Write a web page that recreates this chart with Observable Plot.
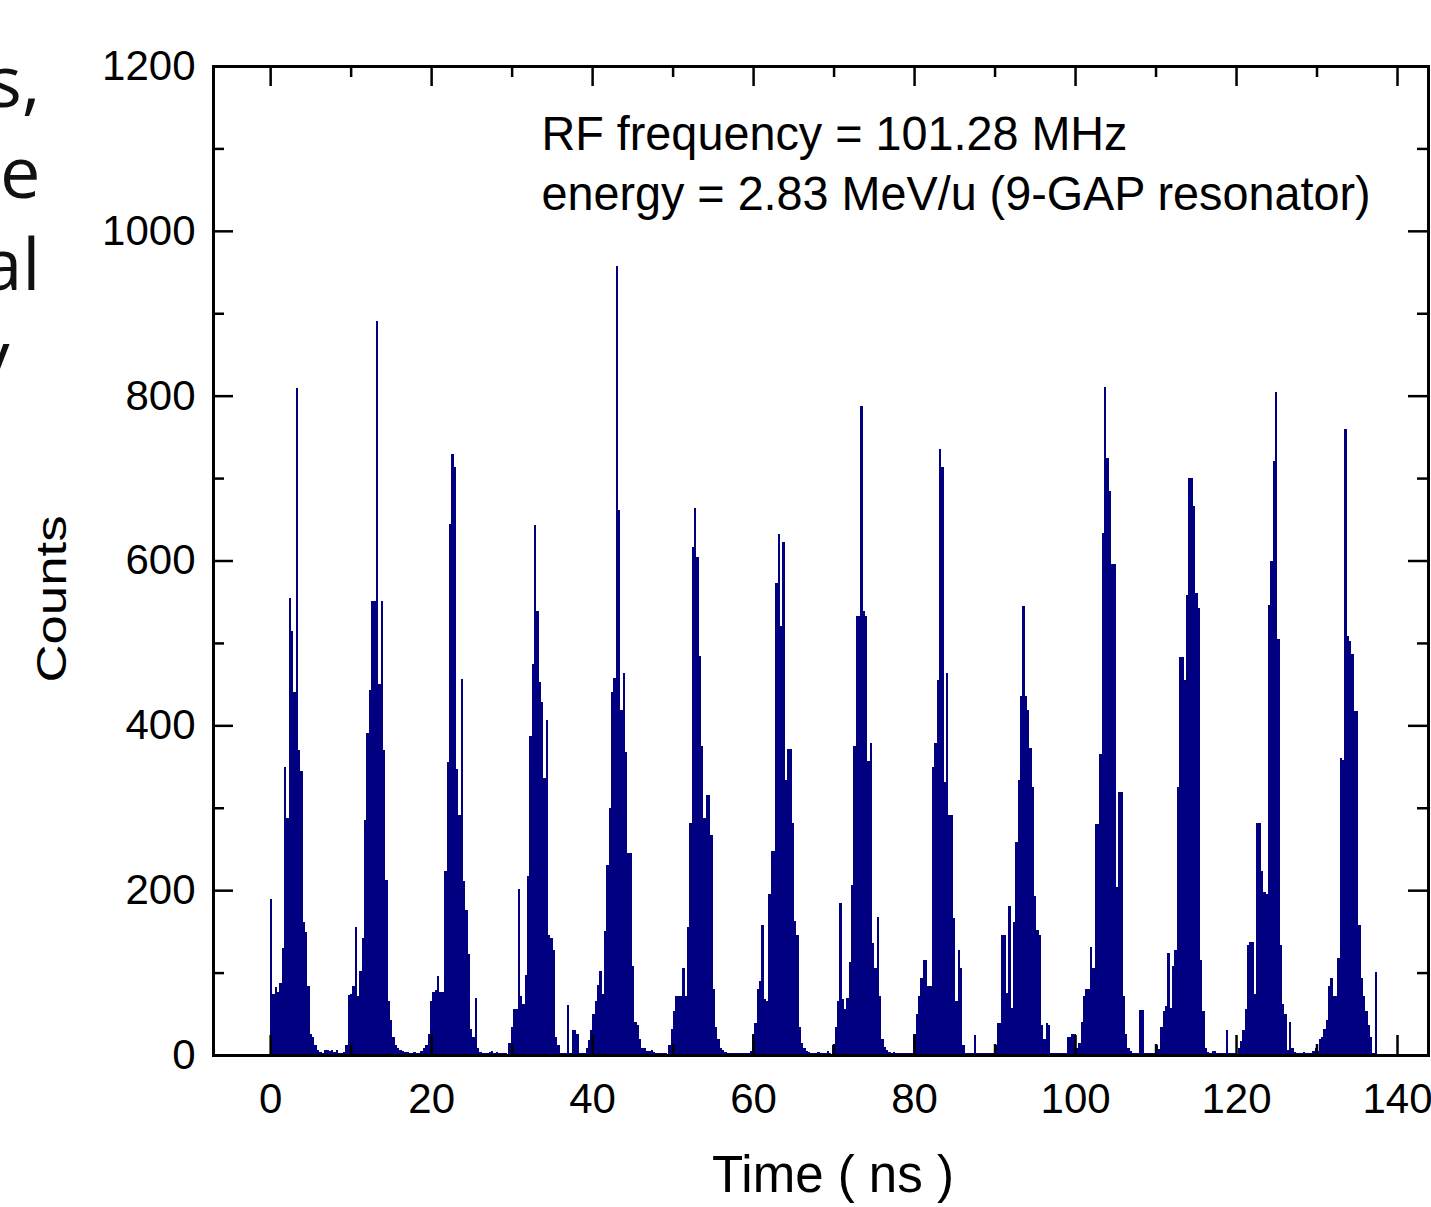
<!DOCTYPE html>
<html>
<head>
<meta charset="utf-8">
<script src="https://cdn.jsdelivr.net/npm/d3@7"></script>
<script src="https://cdn.jsdelivr.net/npm/@observablehq/plot@0.6"></script>
<style>
  html, body { margin: 0; padding: 0; background: white; }
  #chart { position: absolute; left: 0; top: 0; }
</style>
</head>
<body>
<div id="chart"></div>
<script>
// ---- Data (counts per ~0.29 ns time bin) ----
const binWidth = 0.29; // ns
const peakStart = [0.0, 9.36, 19.30, 29.61, 39.46, 49.48, 59.88, 69.86, 79.92, 89.98, 98.96, 110.02, 120.21, 130.27];

const peak01 = [189, 74, 82, 77, 87, 130, 350, 288, 555, 514, 441, 809, 370, 344, 161, 149, 84, 25, 22, 12, 6, 4, 3, 6, 6, 5, 6, 4, 6, 3, 2, 4];
const peak02 = [12, 73, 74, 84, 155, 71, 102, 142, 285, 391, 443, 551, 551, 890, 450, 551, 370, 212, 65, 43, 22, 12, 8, 6, 5, 4, 4, 3, 3, 4, 3, 3, 5, 8];
const peak03 = [12, 25, 65, 77, 79, 96, 77, 77, 223, 356, 644, 729, 713, 347, 291, 456, 211, 176, 123, 31, 22, 69, 9, 4, 3, 3, 3, 4, 5, 3, 4, 3, 2, 2, 3];
const peak04 = [15, 34, 56, 56, 202, 71, 62, 97, 217, 387, 475, 643, 539, 452, 428, 336, 407, 145, 142, 127, 22, 12, 3, 2, 2, 61, 3, 30, 30, 25, 3, 3, 3, 8];
const peak05 = [18, 30, 50, 65, 85, 102, 74, 150, 230, 300, 440, 457, 957, 661, 418, 463, 368, 245, 245, 108, 40, 37, 19, 9, 8, 5, 5, 6, 4, 3, 3, 3, 2, 3];
const peak06 = [12, 32, 53, 71, 71, 71, 106, 71, 155, 282, 616, 664, 604, 484, 375, 287, 315, 315, 267, 80, 34, 19, 9, 6, 4, 3, 3, 3, 3, 3, 3, 3, 3, 3, 3, 5];
const peak07 = [25, 39, 80, 90, 158, 68, 65, 195, 248, 248, 573, 632, 520, 622, 334, 371, 371, 282, 163, 146, 34, 15, 8, 5, 4, 3, 3, 3, 4, 3, 3, 3, 5, 3];
const peak08 = [12, 34, 65, 185, 68, 56, 69, 113, 206, 375, 533, 533, 788, 539, 533, 357, 378, 136, 106, 167, 71, 19, 10, 6, 4, 3, 4, 3, 3, 3, 3, 2, 2, 2, 3];
const peak09 = [25, 50, 71, 93, 115, 115, 84, 84, 350, 378, 455, 735, 713, 331, 464, 291, 291, 166, 65, 127, 105, 12, 3, 3, 3, 3, 24, 3, 3, 3, 3, 3, 3, 3, 3];
const peak10 = [12, 39, 39, 146, 146, 75, 181, 57, 161, 259, 334, 435, 545, 435, 418, 373, 325, 193, 152, 146, 37, 20, 39, 37, 3, 3, 3, 3, 3, 3, 3];
const peak11 = [22, 22, 25, 25, 8, 15, 40, 72, 80, 80, 131, 105, 280, 280, 365, 633, 811, 724, 684, 596, 596, 204, 319, 319, 71, 25, 9, 5, 3, 3, 3, 54, 54, 3, 3, 3, 3, 3];
const peak12 = [12, 7, 34, 53, 59, 124, 57, 108, 127, 325, 483, 483, 455, 558, 700, 700, 666, 560, 542, 115, 53, 9, 4, 3, 5, 5, 3, 3, 3, 3, 30, 3, 3, 3, 3];
const peak13 = [9, 17, 30, 56, 133, 137, 137, 74, 282, 282, 223, 198, 195, 546, 600, 721, 804, 505, 133, 62, 50, 6, 40, 9, 4, 3, 3, 3, 4, 3, 3, 3, 5, 8, 5];
const peak14 = [19, 22, 31, 43, 84, 93, 71, 71, 118, 360, 358, 759, 508, 502, 486, 417, 417, 158, 93, 71, 53, 37, 22, 3, 101];

const xMajor = [0, 20, 40, 60, 80, 100, 120, 140];
const xMinor = [10, 30, 50, 70, 90, 110, 130];
const yMajor = [0, 200, 400, 600, 800, 1000, 1200];
const yMinor = [100, 300, 500, 700, 900, 1100];

const xLabel = "Time ( ns )";
const yLabel = "Counts";
const noteLines = ["RF frequency = 101.28 MHz", "energy = 2.83 MeV/u (9-GAP resonator)"];
const slideFragments = ["s,", "e", "al"];
const slideFragmentLast = "y";

// ---- Build histogram table ----
const peaks = [peak01, peak02, peak03, peak04, peak05, peak06, peak07, peak08, peak09, peak10, peak11, peak12, peak13, peak14];
const bins = peaks.flatMap((arr, k) => arr.map((c, i) => ({
  x1: peakStart[k] + i * binWidth,
  x2: peakStart[k] + (i + 1) * binWidth,
  count: c
})));

const W = 1431, H = 1207;
const mL = 213, mT = 66, mR = 3, mB = 152;
const plotW = W - mL - mR;
const plotH = H - mT - mB;
const majorLen = 20, minorLen = 11;
const ink = "black";
const slideFont = "'Open Sans', 'Noto Sans', sans-serif";

const lineDy = [17, 108, 200];
const fragMarks = slideFragments.map((t, i) =>
  Plot.text([t], {text: d => d, frameAnchor: "top-left", textAnchor: "end", lineAnchor: "middle",
    dx: -173, dy: lineDy[i], fontSize: 72, fontFamily: slideFont, fill: "#111"})
);
fragMarks.push(Plot.text([slideFragmentLast], {text: d => d, frameAnchor: "top-left", textAnchor: "end", lineAnchor: "middle",
  dx: -204, dy: 292, fontSize: 72, fontFamily: slideFont, fill: "#111"}));

const chart = Plot.plot({
  width: W, height: H, marginLeft: mL, marginTop: mT, marginRight: mR, marginBottom: mB,
  x: {domain: [-7.1, 143.85]},
  y: {domain: [0, 1200]},
  style: {fontFamily: "'Liberation Sans', Arial, sans-serif", color: "black", background: "white"},
  marks: [
    Plot.rectY(bins, {x1: "x1", x2: "x2", y: "count", fill: "#000080", shapeRendering: "crispEdges"}),
    // bottom ticks (inward)
    Plot.ruleX(xMajor, {insetTop: plotH - majorLen, stroke: ink, strokeWidth: 2.5}),
    Plot.ruleX(xMinor, {insetTop: plotH - minorLen, stroke: ink, strokeWidth: 2.5}),
    // top ticks (inward)
    Plot.ruleX(xMajor, {insetBottom: plotH - majorLen, stroke: ink, strokeWidth: 2.5}),
    Plot.ruleX(xMinor, {insetBottom: plotH - minorLen, stroke: ink, strokeWidth: 2.5}),
    // left ticks (inward)
    Plot.ruleY(yMajor, {insetRight: plotW - majorLen, stroke: ink, strokeWidth: 2.5}),
    Plot.ruleY(yMinor, {insetRight: plotW - minorLen, stroke: ink, strokeWidth: 2.5}),
    // right ticks (inward)
    Plot.ruleY(yMajor, {insetLeft: plotW - majorLen, stroke: ink, strokeWidth: 2.5}),
    Plot.ruleY(yMinor, {insetLeft: plotW - minorLen, stroke: ink, strokeWidth: 2.5}),
    Plot.frame({stroke: ink, strokeWidth: 3}),
    Plot.axisX(xMajor, {tickSize: 0, tickPadding: 28, fontSize: 42, label: null, tickFormat: d => String(d)}),
    Plot.axisY(yMajor, {tickSize: 0, tickPadding: 18, fontSize: 42, label: null, tickFormat: d => String(d)}),
    Plot.text([xLabel], {text: d => d, frameAnchor: "bottom", textAnchor: "middle", lineAnchor: "middle", dx: 12, dy: 120, fontSize: 51}),
    Plot.text([yLabel], {text: d => d, frameAnchor: "left", textAnchor: "middle", lineAnchor: "middle", dx: -161, dy: 38, rotate: -90, fontSize: 42}),
    Plot.text([noteLines[0]], {text: d => d, frameAnchor: "top-left", textAnchor: "start", lineAnchor: "middle", dx: 328, dy: 68, fontSize: 49}),
    Plot.text([noteLines[1]], {text: d => d, frameAnchor: "top-left", textAnchor: "start", lineAnchor: "middle", dx: 328, dy: 128, fontSize: 49}),
    ...fragMarks
  ]
});

// fit the condensed / stretched label lengths seen in the reference
const fit = {[yLabel]: 167, [noteLines[0]]: 586, [noteLines[1]]: 829};
d3.select(chart).selectAll("text").each(function() {
  const t = this.textContent;
  if (fit[t] !== undefined) {
    d3.select(this).attr("textLength", fit[t]).attr("lengthAdjust", "spacingAndGlyphs");
  }
});
document.getElementById("chart").appendChild(chart);
</script>
</body>
</html>
